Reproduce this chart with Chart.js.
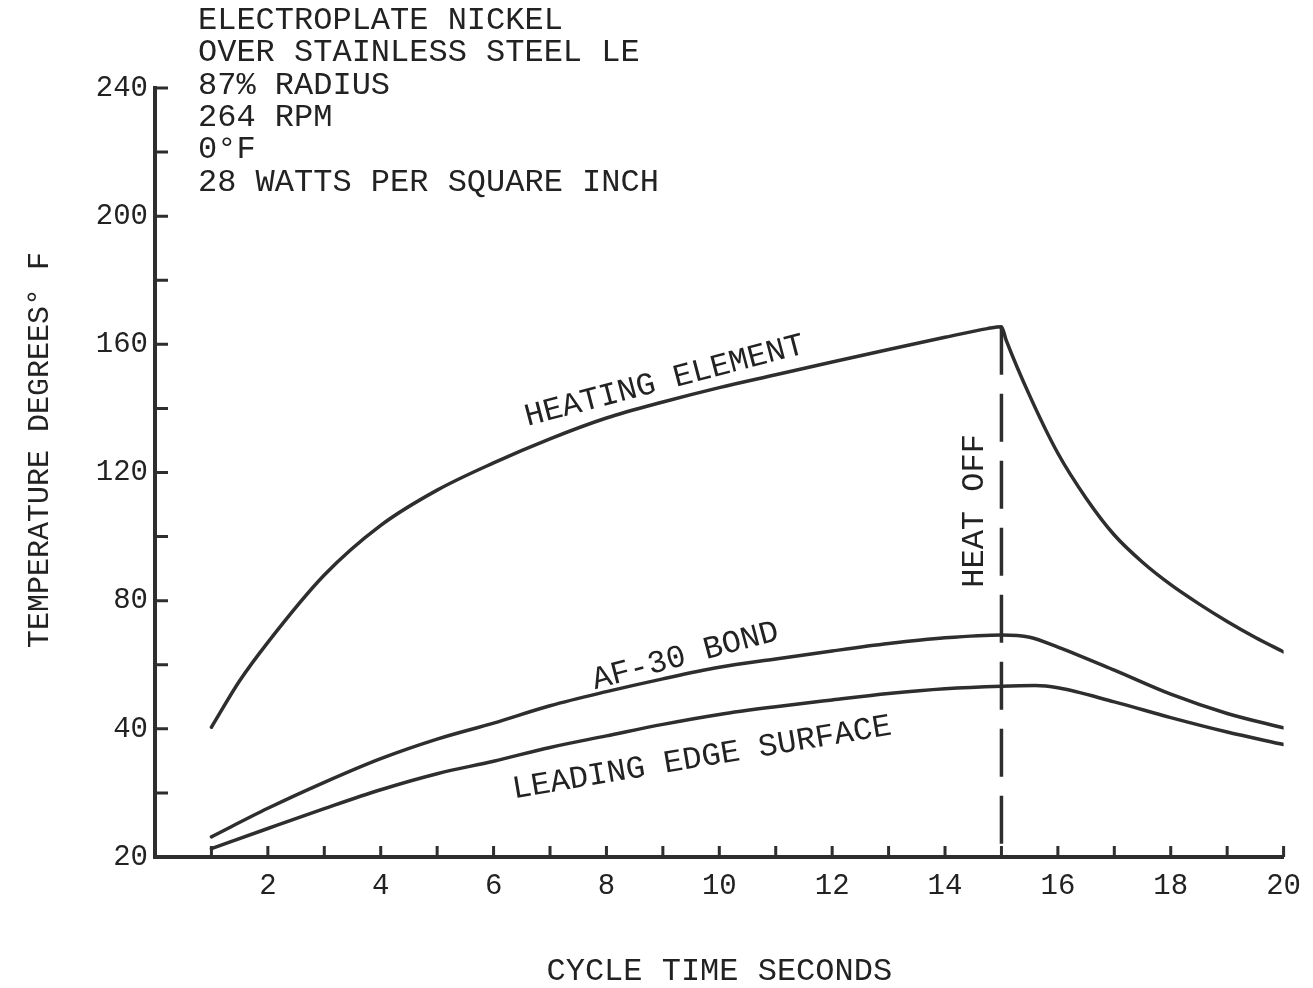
<!DOCTYPE html>
<html>
<head>
<meta charset="utf-8">
<title>Electroplate nickel - cycle temperatures</title>
<script src="https://cdn.jsdelivr.net/npm/chart.js@4.4.0/dist/chart.umd.min.js"></script>
<style>
  html, body { margin: 0; padding: 0; background: #fff; }
  #wrap { width: 1313px; height: 988px; }
</style>
</head>
<body>
<div id="wrap"><canvas id="temp_chart"></canvas></div>
<script>
// values (x = cycle seconds, y = axis units)
let heating_time = [1, 1.5, 2, 3, 4, 5, 6, 7, 8, 9, 10, 11, 12, 13, 14, 14.75, 15, 15.08, 15.5, 16, 16.5, 17, 17.5, 18, 18.5, 19, 19.5, 20]
let heating_temp = [40.5, 55, 67, 88, 103.5, 114.5, 123, 130.5, 137, 142, 146.5, 150.5, 154.5, 158.4, 162.2, 164.9, 165.5, 161.5, 144, 126, 112, 100.5, 92, 85, 79, 73.5, 68.5, 64]

let bond_time = [1, 2, 3, 4, 5, 6, 7, 8, 9, 10, 11, 12, 13, 14, 15, 15.5, 16, 17, 18, 19, 20]
let bond_temp = [6.3, 15.2, 23.3, 30.7, 36.8, 41.8, 47.2, 51.6, 55.6, 59.2, 61.8, 64.3, 66.6, 68.4, 69.3, 68.6, 65.5, 58.3, 50.8, 44.8, 40.3]

let surface_time = [1, 2, 3, 4, 5, 6, 7, 8, 9, 10, 11, 12, 13, 14, 15, 15.6, 16, 17, 18, 19, 20]
let surface_temp = [2.6, 8.9, 15.1, 21, 26, 29.9, 34.2, 37.8, 41.4, 44.5, 46.9, 49, 51, 52.5, 53.3, 53.5, 52.8, 48.4, 43.5, 39, 35.1]

let heat_off_time = [15, 15]
let heat_off_temp = [165.5, 0]

// tick labels as printed on the original (bottom one reads 20)
let x_tick_labels = ['', '', '2', '', '4', '', '6', '', '8', '', '10', '', '12', '', '14', '', '16', '', '18', '', '20']
let y_tick_labels = ['20', '', '40', '', '80', '', '120', '', '160', '', '200', '', '240']

let header_lines = [
    'ELECTROPLATE NICKEL',
    'OVER STAINLESS STEEL LE',
    '87% RADIUS',
    '264 RPM',
    '0°F',
    '28 WATTS PER SQUARE INCH'
]

const FONT = '"Liberation Mono", "DejaVu Sans Mono", monospace';
const INK = '#222';
const LINE = '#2e2e2e';

// curve captions, anchored in data units
const captions = [
    {text: 'HEATING ELEMENT', x: 9.03, y: 148.5, angle: -14.7},
    {text: 'AF-30 BOND', x: 9.4, y: 62.7, angle: -15},
    {text: 'LEADING EDGE SURFACE', x: 9.69, y: 30.9, angle: -9.6},
    {text: 'HEAT OFF', x: 14.52, y: 108, angle: -90}
];

function to_points(xs, ys) {
    return xs.map((x, i) => ({x: x, y: ys[i]}));
}

function curve(label, xs, ys) {
    return {
        label: label,
        data: to_points(xs, ys),
        borderColor: LINE,
        borderWidth: 3.5,
        borderCapStyle: 'round',
        pointRadius: 0,
        cubicInterpolationMode: 'monotone',
        fill: false
    };
}

// tick marks point into the plot on the original
const inner_ticks = {
    id: 'inner_ticks',
    afterDatasetsDraw(chart) {
        const ctx = chart.ctx;
        const xs = chart.scales.x;
        const ys = chart.scales.y;
        const area = chart.chartArea;
        ctx.save();
        ctx.strokeStyle = LINE;
        ctx.lineWidth = 3;
        ctx.beginPath();
        ys.ticks.forEach(t => {
            const py = ys.getPixelForValue(t.value);
            ctx.moveTo(area.left, py);
            ctx.lineTo(area.left + 13, py);
        });
        xs.ticks.forEach(t => {
            const px = xs.getPixelForValue(t.value);
            ctx.moveTo(px, area.bottom);
            ctx.lineTo(px, area.bottom - 11);
        });
        ctx.stroke();
        ctx.restore();
    }
};

const text_plugin = {
    id: 'texts',
    afterDatasetsDraw(chart) {
        const ctx = chart.ctx;
        const xs = chart.scales.x;
        const ys = chart.scales.y;
        ctx.save();
        ctx.fillStyle = INK;
        ctx.font = '32px ' + FONT;
        ctx.textAlign = 'center';
        ctx.textBaseline = 'middle';
        captions.forEach(c => {
            ctx.save();
            ctx.translate(xs.getPixelForValue(c.x), ys.getPixelForValue(c.y));
            ctx.rotate(c.angle * Math.PI / 180);
            ctx.fillText(c.text, 0, 0);
            ctx.restore();
        });
        // y axis title, sits a little above the axis middle
        ctx.save();
        ctx.font = '30px ' + FONT;
        ctx.translate(40, 450);
        ctx.rotate(-Math.PI / 2);
        ctx.fillText('TEMPERATURE DEGREES° F', 0, 0);
        ctx.restore();
        // header block top left
        ctx.textAlign = 'left';
        ctx.textBaseline = 'alphabetic';
        header_lines.forEach((line, i) => {
            ctx.fillText(line, chart.chartArea.left + 43, 29 + i * 32.3);
        });
        ctx.restore();
    }
};

function add_chart() {
    const ctx = document.getElementById('temp_chart');
    new Chart(ctx, {
        type: 'line',
        data: {
            datasets: [
                curve('Heating element', heating_time, heating_temp),
                curve('AF-30 bond', bond_time, bond_temp),
                curve('Leading edge surface', surface_time, surface_temp),
                {
                    label: 'Heat off',
                    data: to_points(heat_off_time, heat_off_temp),
                    borderColor: LINE,
                    borderWidth: 3.5,
                    borderDash: [48, 19],
                    pointRadius: 0,
                    tension: 0
                }
            ]
        },
        options: {
            responsive: true,
            maintainAspectRatio: false,
            animation: false,
            layout: {padding: {top: 88, right: 14, left: 0, bottom: 0}},
            plugins: {
                legend: {display: false},
                tooltip: {enabled: false}
            },
            scales: {
                x: {
                    type: 'linear',
                    min: 0,
                    max: 20,
                    afterFit: scale => { scale.height = 131; },
                    ticks: {
                        stepSize: 1,
                        autoSkip: false,
                        maxRotation: 0,
                        padding: 12,
                        color: INK,
                        font: {family: FONT, size: 29},
                        callback: (v, i) => x_tick_labels[i]
                    },
                    grid: {display: false, drawTicks: false},
                    border: {width: 4, color: LINE},
                    title: {
                        display: true,
                        text: 'CYCLE TIME SECONDS',
                        color: INK,
                        font: {family: FONT, size: 32, lineHeight: 1},
                        padding: {top: 0, bottom: 0}
                    }
                },
                y: {
                    min: 0,
                    max: 240,
                    afterFit: scale => { scale.width = 155; },
                    ticks: {
                        stepSize: 20,
                        autoSkip: false,
                        padding: 7,
                        color: INK,
                        font: {family: FONT, size: 29},
                        callback: (v, i) => y_tick_labels[i]
                    },
                    grid: {display: false, drawTicks: false},
                    border: {width: 4, color: LINE}
                }
            }
        },
        plugins: [inner_ticks, text_plugin]
    });
}

add_chart();
</script>
</body>
</html>
